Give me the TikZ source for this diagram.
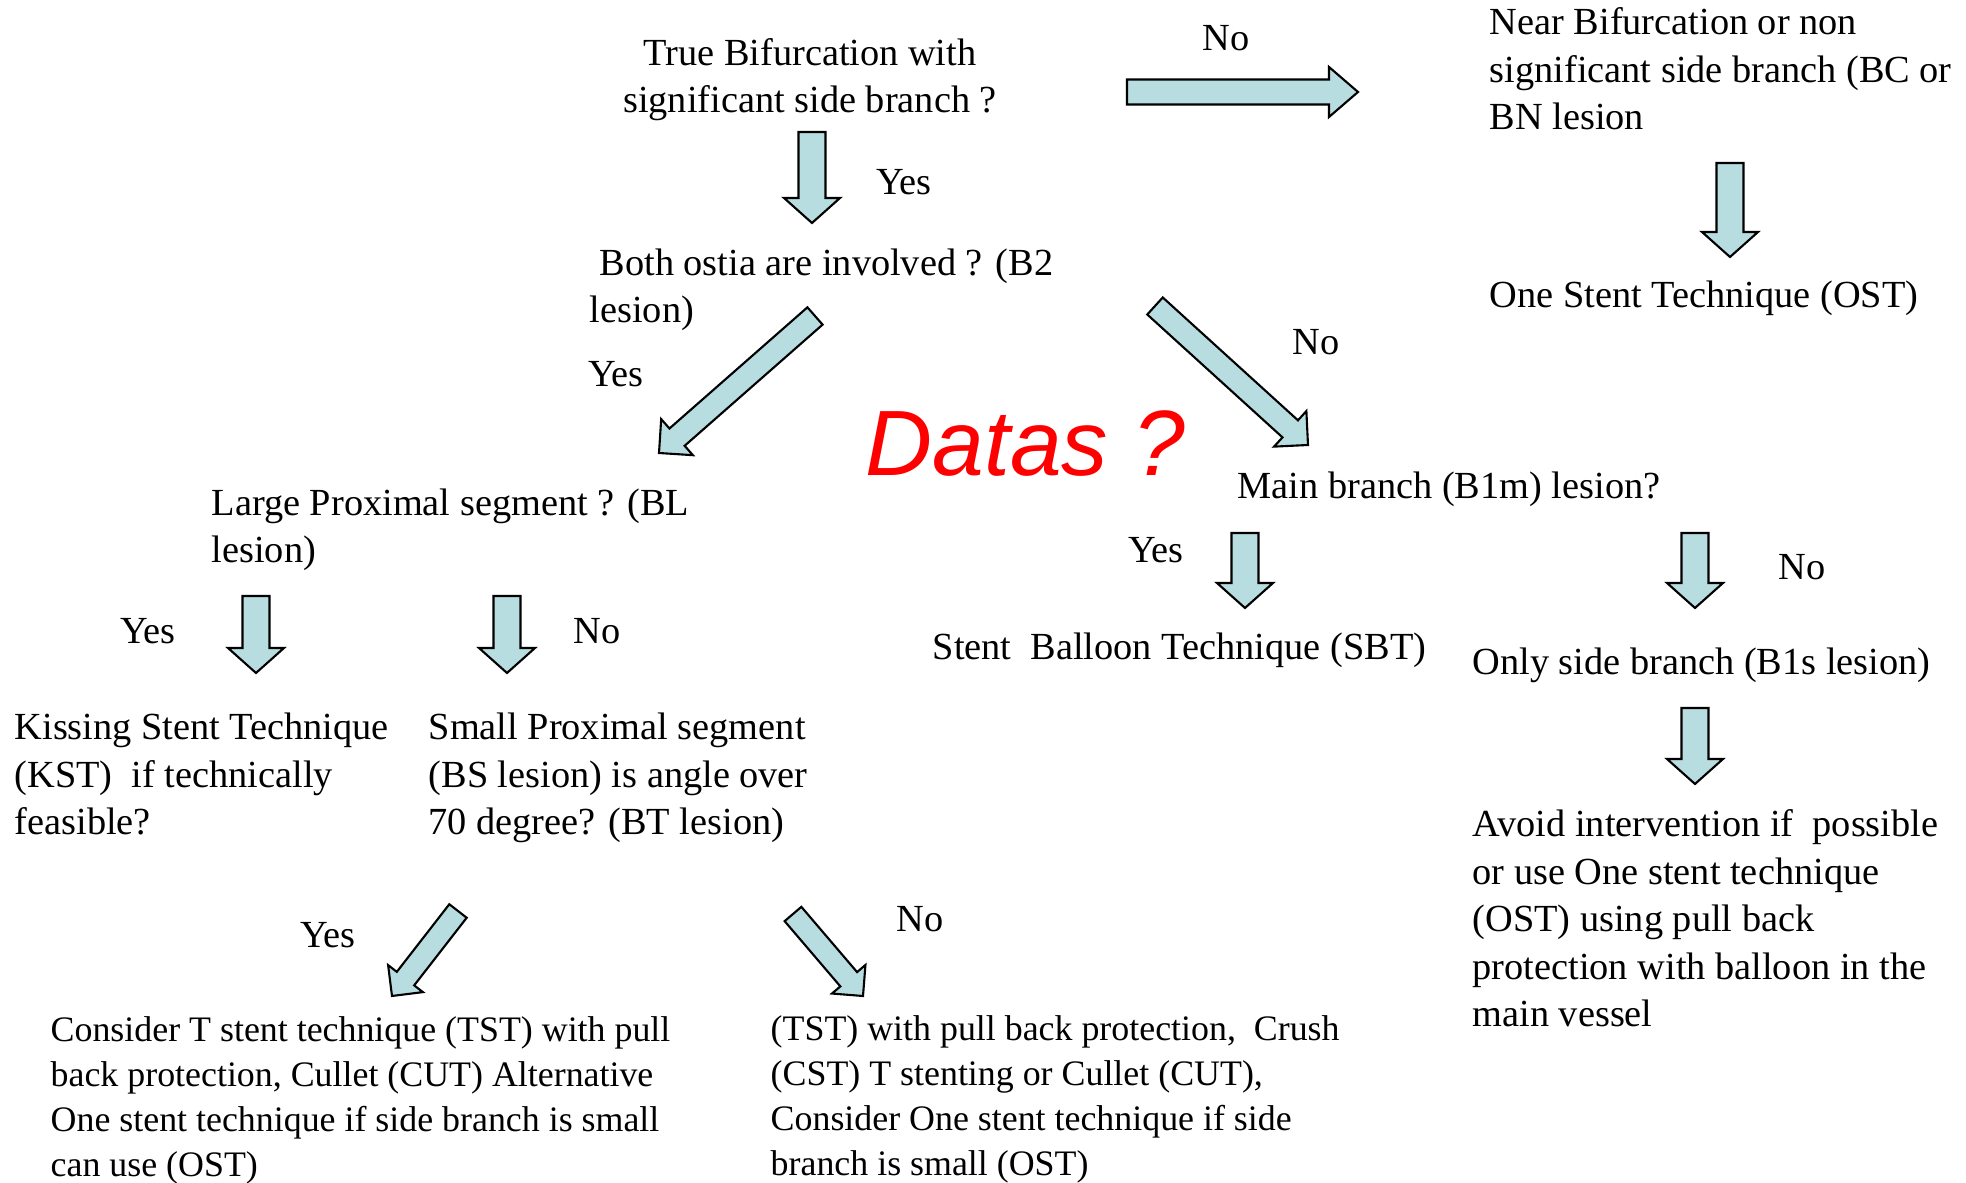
\documentclass[tikz,border=0pt]{standalone}
\usepackage{fontspec}
\setmainfont{Liberation Serif}
\newfontfamily\datafont{Liberation Sans}
\usetikzlibrary{calc}
\definecolor{arrowblue}{RGB}{183,221,224}

\newcommand{\blockarrow}[5]{%
  \coordinate (#2-hb) at ($(#2)!#5!(#1)$);
  \draw[arrowbody] ($(#1)!#3!90:(#2)$) -- ($(#2-hb)!#3!90:(#2)$) -- ($(#2-hb)!#4!90:(#2)$) -- (#2)
    -- ($(#2-hb)!#4!-90:(#2)$) -- ($(#2-hb)!#3!-90:(#2)$) -- ($(#1)!#3!-90:(#2)$) -- cycle;
}

\begin{document}
\begin{tikzpicture}[x=0.01cm, y=-0.01cm,
  txt/.style={anchor=base west, align=left, inner sep=0pt, font=\fontsize{10.9}{13.54}\selectfont},
  smalltxt/.style={txt, font=\fontsize{10.2}{12.8}\selectfont},
  lbl/.style={inner sep=0pt, font=\fontsize{10.9}{13.54}\selectfont},
  arrowbody/.style={draw=black, line width=0.6pt, fill=arrowblue, line join=miter}]
\fill[white] (0,0) rectangle (1966,1183);
\useasboundingbox (0,0) rectangle (1966,1183);

% last baseline of each text block
\node[txt, anchor=base, align=center] (truebif) at (810,113) {True Bifurcation with\\significant side branch ?};
\node[txt] (nearbif) at (1489,130) {Near Bifurcation or non\\significant side branch (BC or\\BN lesion};
\node[txt] (ost) at (1489,308) {One Stent Technique (OST)};
\node[txt] (both) at (589,323) {\hspace*{0.1cm}Both ostia are involved ? (B2\\lesion)};
\node[txt] (mainbr) at (1237,499) {Main branch (B1m) lesion?};
\node[txt] (large) at (211,563) {Large Proximal segment ? (BL\\lesion)};
\node[txt] (kst) at (14,835) {Kissing Stent Technique\\(KST)\ \ if technically\\feasible?};
\node[txt] (small) at (428,835) {Small Proximal segment\\(BS lesion) is angle over\\70 degree? (BT lesion)};
\node[txt] (sbt) at (932,660) {Stent\ \ Balloon Technique (SBT)};
\node[txt] (sidebr) at (1472,675) {Only side branch (B1s lesion)};
\node[txt] (avoid) at (1472,1027) {Avoid intervention if\ \ possible\\or use One stent technique\\(OST) using pull back\\protection with balloon in the\\main vessel};
\node[smalltxt] (tst) at (50,1177) {Consider T stent technique (TST) with pull\\back protection, Cullet (CUT) Alternative\\One stent technique if side branch is small\\can use (OST)};
\node[smalltxt] (crush) at (770,1176) {(TST) with pull back protection,\ \ Crush\\(CST) T stenting or Cullet (CUT),\\Consider One stent technique if side\\branch is small (OST)};
\node[font=\datafont\itshape\fontsize{26.4}{30}\selectfont, text=red, anchor=base west, inner sep=0pt] (datas) at (865,476) {Datas ?};

\node[lbl] (no1) at (1226,38) {No};
\node[lbl] (yes1) at (904,182) {Yes};
\node[lbl] (yes2) at (616,374) {Yes};
\node[lbl] (no2) at (1316,342) {No};
\node[lbl] (yes3) at (148,631) {Yes};
\node[lbl] (no3) at (597,631) {No};
\node[lbl] (yes4) at (1156,550) {Yes};
\node[lbl] (no4) at (1802,567) {No};
\node[lbl] (yes5) at (328,935) {Yes};
\node[lbl] (no5) at (920,919) {No};

\coordinate (nearS) at (1127,92);  \coordinate (nearE) at (1358,92);
\coordinate (ostS) at (1730,163);  \coordinate (ostE) at (1730,257);
\coordinate (bothS) at (812,132);  \coordinate (bothE) at (812,223);
\coordinate (largeS) at (815,316); \coordinate (largeE) at (659,453);
\coordinate (mainS) at (1155,306); \coordinate (mainE) at (1308,445);
\coordinate (kstS) at (256,596);   \coordinate (kstE) at (256,673);
\coordinate (smallS) at (507,596); \coordinate (smallE) at (507,673);
\coordinate (sbtS) at (1245,533);  \coordinate (sbtE) at (1245,608);
\coordinate (sideS) at (1695,533); \coordinate (sideE) at (1695,608);
\coordinate (avoidS) at (1695,708); \coordinate (avoidE) at (1695,784);
\coordinate (tstS) at (458,911);   \coordinate (tstE) at (392,996);
\coordinate (crushS) at (793,914); \coordinate (crushE) at (863,996);

\blockarrow{nearS}{nearE}{0.125cm}{0.25cm}{0.29cm}
\blockarrow{ostS}{ostE}{0.135cm}{0.28cm}{0.25cm}
\blockarrow{bothS}{bothE}{0.135cm}{0.28cm}{0.25cm}
\blockarrow{largeS}{largeE}{0.115cm}{0.24cm}{0.24cm}
\blockarrow{mainS}{mainE}{0.115cm}{0.24cm}{0.24cm}
\blockarrow{kstS}{kstE}{0.135cm}{0.28cm}{0.25cm}
\blockarrow{smallS}{smallE}{0.135cm}{0.28cm}{0.25cm}
\blockarrow{sbtS}{sbtE}{0.135cm}{0.28cm}{0.25cm}
\blockarrow{sideS}{sideE}{0.135cm}{0.28cm}{0.25cm}
\blockarrow{avoidS}{avoidE}{0.135cm}{0.28cm}{0.25cm}
\blockarrow{tstS}{tstE}{0.11cm}{0.22cm}{0.22cm}
\blockarrow{crushS}{crushE}{0.11cm}{0.22cm}{0.22cm}
\end{tikzpicture}
\end{document}
